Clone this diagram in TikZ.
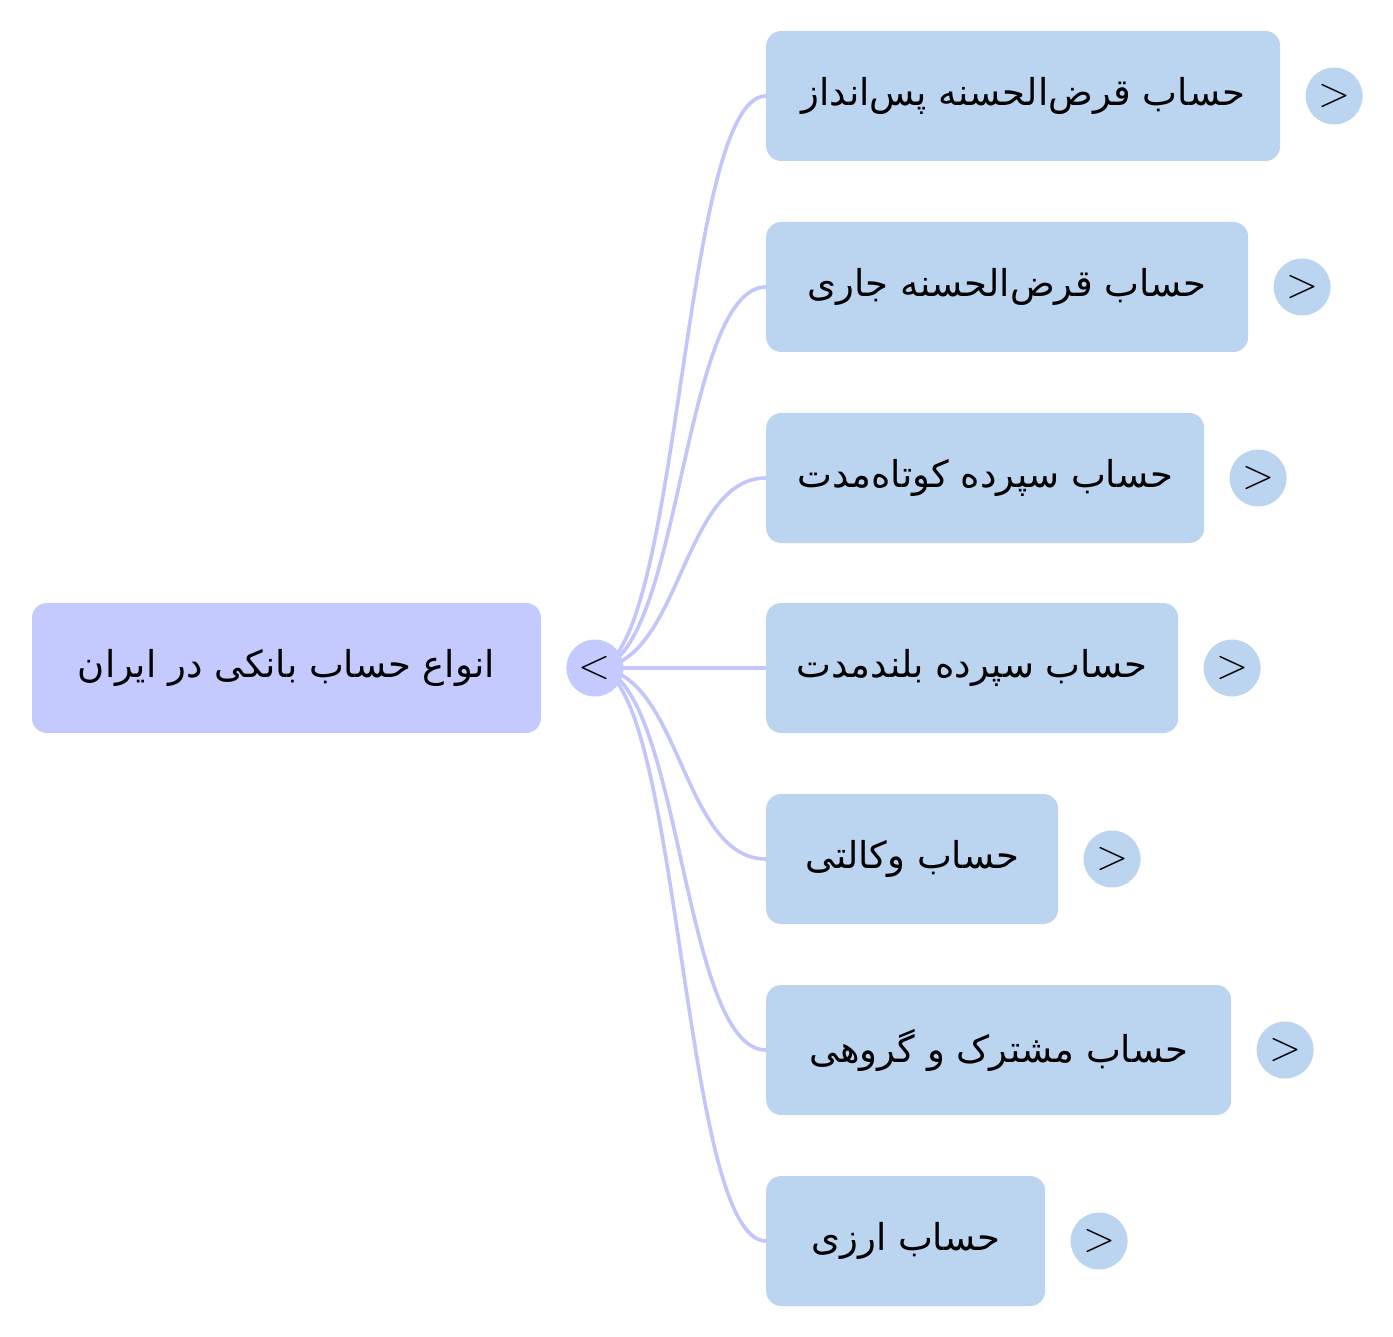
\documentclass[tikz,border=0pt]{standalone}
\usepackage{fontspec}
\usepackage{xcolor}
\newfontfamily\arabicfont[Script=Arabic]{DejaVu Sans}
\usetikzlibrary{positioning, backgrounds}
\TeXXeTstate=1

\definecolor{rootfill}{HTML}{C4CAFD}
\definecolor{leaffill}{HTML}{BBD4EF}
\definecolor{linkcol}{HTML}{C2C6FA}

\newcommand{\fatext}[1]{\arabicfont\beginR #1\endR}

\begin{document}
\begin{tikzpicture}[
    x=1pt, y=-1pt,
    node distance=25pt,
    topic/.style={rectangle, rounded corners=15pt, minimum height=130pt, inner sep=0pt, font=\fontsize{37}{42}\selectfont},
    rootbox/.style={topic, fill=rootfill, minimum width=509pt},
    leafbox/.style={topic, fill=leaffill, anchor=west},
    knob/.style={circle, minimum size=57pt, inner sep=0pt, font=\fontsize{42}{46}\selectfont},
    link/.style={draw=linkcol, line width=3.6pt}
]
    \useasboundingbox (0,0) rectangle (1393,1337);

    % Root
    \node[rootbox] (root) at (286.5,668) {\fatext{انواع حساب بانکی در ایران}};
    \node[knob, fill=rootfill, right=of root] (rootknob) {<};
    \coordinate (bend) at (681,668);

    % Children
    \foreach \i/\y/\w/\t in {
        1/96/514/{حساب قرض‌الحسنه پس‌انداز},
        2/287/482/{حساب قرض‌الحسنه جاری},
        3/478/438/{حساب سپرده کوتاه‌مدت},
        4/668/412/{حساب سپرده بلندمدت},
        5/859/292/{حساب وکالتی},
        6/1050/465/{حساب مشترک و گروهی},
        7/1241/279/{حساب ارزی}} {
        \node[leafbox, minimum width=\w pt] (c\i) at (766,\y) {\fatext{\t}};
        \node[knob, fill=leaffill, right=of c\i] (k\i) {>};
    }

    % Links (root to children)
    \begin{scope}[on background layer]
        \foreach \i in {1,...,7}
            \draw[link] (rootknob.center) .. controls (bend) and (bend |- c\i.west) .. (c\i.west);
    \end{scope}
\end{tikzpicture}
\end{document}
